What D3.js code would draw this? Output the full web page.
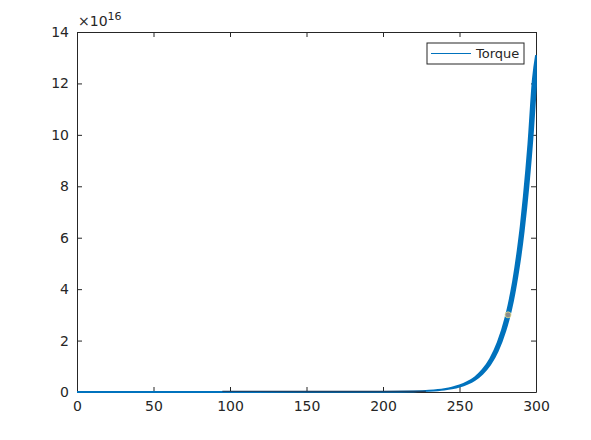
<!DOCTYPE html>
<html>
<head>
<meta charset="utf-8">
<script src="https://cdn.jsdelivr.net/npm/d3@7"></script>
<style>
  body { margin: 0; background: #fff; }
  svg text { font-family: "DejaVu Sans", sans-serif; fill: #262626; }
</style>
</head>
<body>
<div id="chart"></div>
<script>
// data, torque values in units of 1e16 (lower and upper edge of the band)
const torqueX = [0, 50, 100, 150, 200, 220, 230, 240, 245, 250, 255, 260, 265, 270, 275, 280, 282, 285, 288, 290, 292, 295, 298, 300];
const torqueLo = [0, 0, 0, 0.001, 0.004, 0.019, 0.043, 0.095, 0.141, 0.212, 0.318, 0.47, 0.71, 1.06, 1.59, 2.38, 2.79, 3.55, 4.55, 5.33, 6.27, 7.96, 10.1, 11.9];
const torqueHi = [0, 0, 0, 0.001, 0.004, 0.023, 0.052, 0.114, 0.17, 0.256, 0.385, 0.57, 0.86, 1.29, 1.93, 2.88, 3.38, 4.3, 5.5, 6.45, 7.6, 9.64, 12.2, 13.1];
const darkX = [95, 228];
const darkY = [0.03, 0.03];
const markerX = [281.7];
const markerY = [3.0];
const xTicks = [0, 50, 100, 150, 200, 250, 300];
const yTicks = [0, 2, 4, 6, 8, 10, 12, 14];

const W = 591, H = 440;
const margin = { top: 32, right: 55, bottom: 48, left: 77 };

const svg = d3.select("#chart").append("svg")
    .attr("width", W).attr("height", H);

const x = d3.scaleLinear().domain([0, 300]).range([margin.left, W - margin.right]);
const y = d3.scaleLinear().domain([0, 14]).range([H - margin.bottom, margin.top]);

const x0 = x.range()[0], x1 = x.range()[1];
const y0 = y.range()[0], y1 = y.range()[1];

const area = d3.area()
    .x(d => x(d[0]))
    .y0(d => y(d[1]))
    .y1(d => y(d[2]))
    .curve(d3.curveMonotoneX);

const line = d3.line()
    .x(d => x(d[0]))
    .y(d => y(d[1]))
    .curve(d3.curveMonotoneX);

const torque = torqueX.map((v, i) => [v, torqueLo[i], torqueHi[i]]);
const dark = darkX.map((v, i) => [v, darkY[i]]);

// axes: ticks pointing inwards, box on
const axisColor = "#262626";
svg.append("g")
    .attr("transform", `translate(0,${y0})`)
    .call(d3.axisBottom(x).tickValues(xTicks).tickSizeInner(-5).tickSizeOuter(0).tickPadding(9))
    .call(g => g.selectAll("text").style("font-size", "14px").attr("dy", "0.71em"));

svg.append("g")
    .attr("transform", `translate(0,${y1})`)
    .call(d3.axisTop(x).tickValues(xTicks).tickSizeInner(-5).tickSizeOuter(0).tickFormat(""));

svg.append("g")
    .attr("transform", `translate(${x0},0)`)
    .call(d3.axisLeft(y).tickValues(yTicks).tickSizeInner(-5).tickSizeOuter(0).tickPadding(8))
    .call(g => g.selectAll("text").style("font-size", "14px"));

svg.append("g")
    .attr("transform", `translate(${x1},0)`)
    .call(d3.axisRight(y).tickValues(yTicks).tickSizeInner(-5).tickSizeOuter(0).tickFormat(""));

svg.selectAll(".domain, .tick line").attr("stroke", axisColor);

// torque band, drawn over the axis line near zero
svg.append("path")
    .datum(torque)
    .attr("fill", "#0072BD")
    .attr("stroke", "#0072BD")
    .attr("stroke-width", 1.8)
    .attr("d", area);

svg.append("path")
    .datum(dark)
    .attr("fill", "none")
    .attr("stroke", "#1f3550")
    .attr("stroke-width", 1.2)
    .attr("d", line);

svg.selectAll(".marker")
    .data(markerX.map((v, i) => [v, markerY[i]]))
    .join("circle")
    .attr("class", "marker")
    .attr("cx", d => x(d[0]))
    .attr("cy", d => y(d[1]))
    .attr("r", 3)
    .attr("fill", "#8c8c8c")
    .attr("stroke", "#e6e08a")
    .attr("stroke-width", 0.8);

// exponent label
const expo = svg.append("text")
    .attr("x", x0 + 1).attr("y", y1 - 6)
    .style("font-size", "14px");
expo.append("tspan").text("\u00d710");
expo.append("tspan").attr("dy", -6).style("font-size", "11px").text("16");

// legend
const lg = svg.append("g").attr("transform", "translate(427,43)");
lg.append("rect")
    .attr("width", 97).attr("height", 21)
    .attr("fill", "#fff")
    .attr("stroke", axisColor);
lg.append("line")
    .attr("x1", 4).attr("x2", 44)
    .attr("y1", 10.5).attr("y2", 10.5)
    .attr("stroke", "#0072BD");
lg.append("text")
    .attr("x", 49).attr("y", 15)
    .style("font-size", "13px")
    .text("Torque");
</script>
</body>
</html>
